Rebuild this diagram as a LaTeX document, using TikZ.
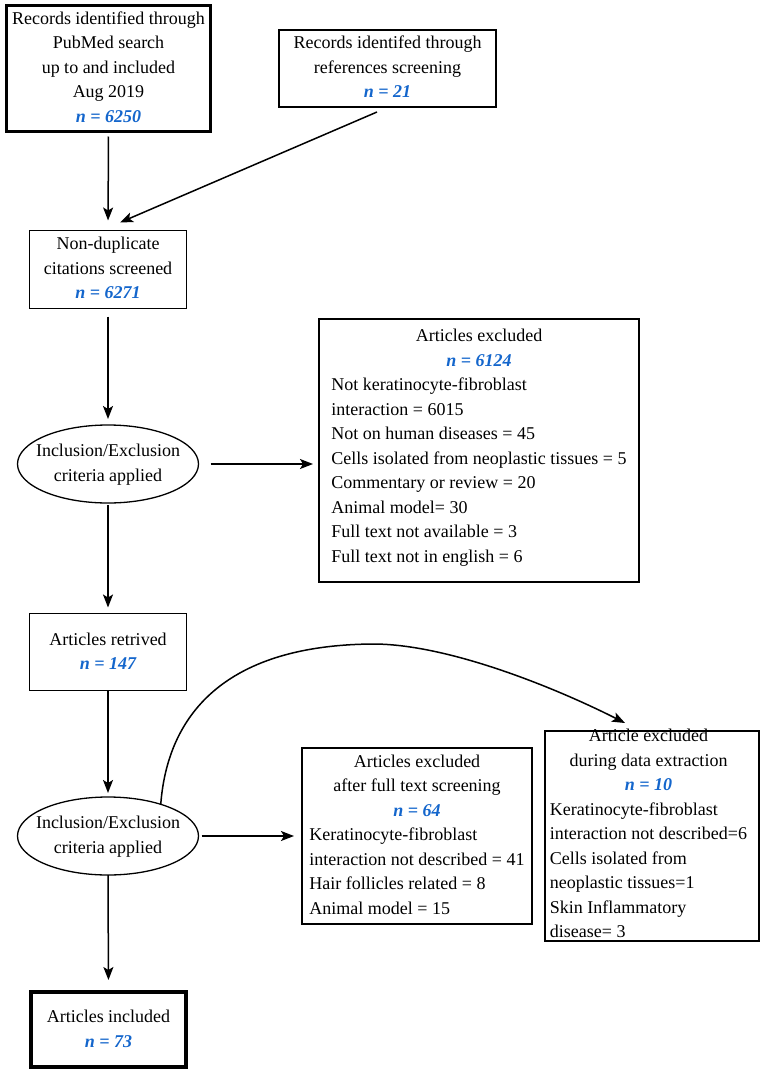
\documentclass[tikz,border=0pt]{standalone}
\usepackage{fontspec}
\setmainfont{Liberation Serif}
\usetikzlibrary{arrows.meta,shapes.geometric}
\definecolor{nblue}{RGB}{20,102,204}
\newcommand{\nval}[1]{\textcolor{nblue}{\bfseries\itshape #1}}
\newcommand{\ctr}[2]{\makebox[0pt]{\raisebox{#1}{\vbox to 0pt{\vss\hbox{#2}\vss}}}}
\newcommand{\hc}[1]{\multicolumn{1}{@{}c@{}}{#1}}
\begin{document}
\begin{tikzpicture}[x=1pt,y=-1pt,
  every node/.style={font=\fontsize{18}{24.5}\selectfont, inner sep=0pt, outer sep=0pt},
  box/.style={draw, rectangle},
  ell/.style={draw, ellipse, line width=1.3pt, minimum width=181pt, minimum height=78pt},
  arr/.style={-{Stealth[length=13pt,width=10pt,inset=3pt]}, line width=1.5pt}]
\useasboundingbox (0,0) rectangle (765,1076);

\node[box, line width=3pt, minimum width=204pt, minimum height=126pt] (rec) at (108.5,68.5)
  {\ctr{0pt}{\begin{tabular}{@{}c@{}}Records identified through\\PubMed search\\up to and included\\Aug 2019\\\nval{n = 6250}\end{tabular}}};
\node[box, line width=2pt, minimum width=217pt, minimum height=77pt] (refs) at (387.5,68.5)
  {\ctr{0pt}{\begin{tabular}{@{}c@{}}Records identifed through\\references screening\\\nval{n = 21}\end{tabular}}};
\node[box, line width=1.3pt, minimum width=157pt, minimum height=78pt] (nondup) at (108,269.5)
  {\ctr{0pt}{\begin{tabular}{@{}c@{}}Non-duplicate\\citations screened\\\nval{n = 6271}\end{tabular}}};
\node[ell] (ell1) at (108,464)
  {\ctr{0pt}{\begin{tabular}{@{}c@{}}Inclusion/Exclusion\\criteria applied\end{tabular}}};
\node[box, line width=2pt, minimum width=320pt, minimum height=263pt] (exc1) at (479,450.5)
  {\ctr{6.5pt}{\begin{tabular}{@{}l@{}}\hc{Articles excluded}\\\hc{\nval{n = 6124}}\\
   Not keratinocyte-fibroblast\\interaction = 6015\\Not on human diseases = 45\\
   Cells isolated from neoplastic tissues = 5\\Commentary or review = 20\\Animal model= 30\\
   Full text not available = 3\\Full text not in english = 6\end{tabular}}};
\node[box, line width=1.3pt, minimum width=157pt, minimum height=77pt] (ret) at (108,652)
  {\ctr{-1pt}{\begin{tabular}{@{}c@{}}Articles retrived\\\nval{n = 147}\end{tabular}}};
\node[ell] (ell2) at (108,836)
  {\ctr{0pt}{\begin{tabular}{@{}c@{}}Inclusion/Exclusion\\criteria applied\end{tabular}}};
\node[box, line width=2pt, minimum width=230pt, minimum height=176pt] (exc2) at (417,836)
  {\ctr{0pt}{\begin{tabular}{@{}l@{}}\hc{Articles excluded}\\\hc{after full text screening}\\\hc{\nval{n = 64}}\\
   Keratinocyte-fibroblast\\interaction not described = 41\\Hair follicles related = 8\\Animal model = 15\end{tabular}}};
\node[box, line width=2pt, minimum width=214pt, minimum height=210pt] (exc3) at (652,836)
  {\ctr{2pt}{\begin{tabular}{@{}l@{}}\hc{Article excluded}\\\hc{during data extraction}\\\hc{\nval{n = 10}}\\
   Keratinocyte-fibroblast\\interaction not described=6\\Cells isolated from\\neoplastic tissues=1\\
   Skin Inflammatory\\disease= 3\end{tabular}\kern7pt}};
\node[box, line width=4pt, minimum width=155pt, minimum height=75pt] (inc) at (108.5,1029.5)
  {\ctr{-1.5pt}{\begin{tabular}{@{}c@{}}Articles included\\\nval{n = 73}\end{tabular}}};

\draw[arr, shorten <=5pt, shorten >=10pt] (rec.south) -- (nondup.north);
\draw[arr] ([xshift=-10.5pt,yshift=-5pt]refs.south) -- ([xshift=12pt,yshift=8pt]nondup.north);
\draw[arr, shorten <=8pt, shorten >=6pt] (nondup.south) -- (ell1.north);
\draw[arr, shorten <=12pt, shorten >=6pt] (ell1.east) -- (exc1.west |- ell1.east);
\draw[arr, shorten <=2pt, shorten >=6pt] (ell1.south) -- (ret.north);
\draw[arr, shorten >=4pt] (ret.south) -- (ell2.north);
\draw[arr, shorten <=3pt, shorten >=8pt] (ell2.east) -- (exc2.west |- ell2.east);
\draw[arr, shorten >=12pt] (ell2.south) -- (inc.north);
\draw[arr] (ell2.31) .. controls (168,710) and (230,645) .. (373,644)
  .. controls (450,644) and (560,690) .. ([xshift=-27pt,yshift=8pt]exc3.north);
\end{tikzpicture}
\end{document}
